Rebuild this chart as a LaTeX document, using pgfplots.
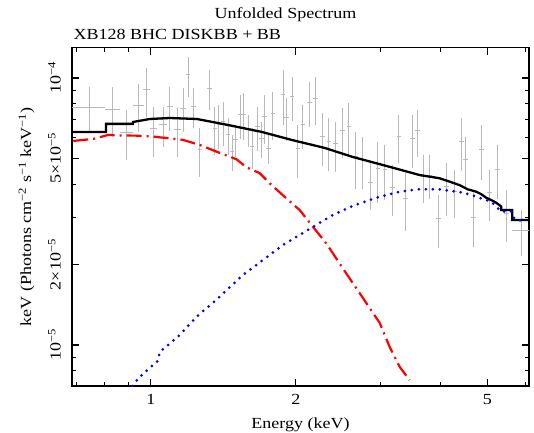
\documentclass[border=0pt]{standalone}
\usepackage{fontspec}
\setmainfont{Liberation Serif}[FakeStretch=1.17]
\usepackage{pgfplots}
\usepackage{pgfplotstable}
\pgfplotsset{compat=1.18}
\definecolor{datgray}{RGB}{185,185,185}
\definecolor{mred}{RGB}{255,0,0}
\definecolor{mblue}{RGB}{0,0,255}

\pgfplotstableread{
x dx y dy
0.745 0.058 7.74e-5 1.54e-5
0.8325 0.030 7.65e-5 1.63e-5
0.890 0.028 6.26e-5 1.33e-5
0.9425 0.0245 7.87e-5 1.60e-5
0.980 0.016 9.02e-5 1.85e-5
1.012 0.017 6.44e-5 1.37e-5
1.060 0.020 6.67e-5 1.14e-5
1.095 0.017 7.81e-5 1.47e-5
1.134 0.019 6.39e-5 1.33e-5
1.167 0.015 7.70e-5 1.45e-5
1.195 0.012 1.026e-4 1.76e-5
1.228 0.015 7.81e-5 1.34e-5
1.264 0.014 5.38e-5 1.12e-5
1.326 0.015 9.15e-5 1.56e-5
1.358 0.015 6.48e-5 1.33e-5
1.384 0.015 6.67e-5 1.25e-5
1.413 0.016 6.86e-5 1.29e-5
1.447 0.016 6.12e-5 0.96e-5
1.475 0.016 5.30e-5 0.82e-5
1.499 0.017 5.86e-5 0.81e-5
1.537 0.017 7.27e-5 1.37e-5
1.561 0.017 7.31e-5 1.45e-5
1.592 0.018 6.39e-5 0.88e-5
1.623 0.018 5.53e-5 0.97e-5
1.665 0.019 6.57e-5 1.24e-5
1.697 0.019 5.94e-5 0.92e-5
1.724 0.019 7.16e-5 1.48e-5
1.757 0.020 5.45e-5 0.67e-5
1.793 0.020 7.38e-5 1.51e-5
1.882 0.021 8.69e-5 2.02e-5
1.912 0.021 7.10e-5 1.29e-5
1.965 0.022 8.51e-5 1.60e-5
2.021 0.023 5.45e-5 1.22e-5
2.070 0.023 6.67e-5 1.25e-5
2.138 0.024 8.11e-5 1.58e-5
2.196 0.025 8.39e-5 1.72e-5
2.271 0.026 6.03e-5 1.35e-5
2.344 0.026 5.77e-5 1.30e-5
2.420 0.027 5.66e-5 1.20e-5
2.499 0.028 6.35e-5 1.35e-5
2.579 0.029 6.57e-5 1.47e-5
2.663 0.030 5.07e-5 1.22e-5
2.749 0.031 4.93e-5 1.10e-5
2.856 0.032 4.07e-5 0.86e-5
2.962 0.033 4.59e-5 1.18e-5
3.063 0.034 4.55e-5 1.06e-5
3.173 0.035 3.88e-5 0.84e-5
3.275 0.037 6.03e-5 1.24e-5
3.381 0.038 3.54e-5 0.86e-5
3.491 0.039 5.94e-5 1.33e-5
3.576 0.040 6.33e-5 1.26e-5
3.685 0.041 4.27e-5 0.88e-5
3.792 0.042 4.33e-5 0.82e-5
3.953 0.044 2.98e-5 0.67e-5
4.107 0.046 3.92e-5 0.87e-5
4.273 0.048 3.75e-5 0.77e-5
4.412 0.049 5.77e-5 1.30e-5
4.503 0.050 4.93e-5 1.10e-5
4.679 0.052 3.01e-5 0.69e-5
4.855 0.054 5.41e-5 1.26e-5
5.050 0.056 3.72e-5 0.80e-5
5.240 0.058 4.56e-5 1.05e-5
5.486 0.061 3.12e-5 0.69e-5
5.875 0.240 2.68e-5 0.52e-5
}\spec

\begin{document}
\fontsize{15.4pt}{18pt}\selectfont
\begin{tikzpicture}
\useasboundingbox (-72pt,-46pt) rectangle (462pt,386pt);
\begin{axis}[
  at={(0pt,0pt)}, anchor=south west,
  scale only axis, width=457pt, height=338.5pt,
  xmode=log, ymode=log,
  xmin=0.686, xmax=6.1, ymin=7.02e-6, ymax=1.3e-4,
  axis line style={line width=1.5pt},
  tick style={line width=1.2pt, black},
  major tick length=7pt, minor tick length=4pt,
  tick align=inside,
  xtick={1,2,5}, xticklabels={1,2,5},
  minor xtick={0.7,0.8,0.9,3,4,6},
  ytick={1e-5,2e-5,5e-5,1e-4},
  yticklabels={10\textsuperscript{−5}, 2×10\textsuperscript{−5}, 5×10\textsuperscript{−5}, 10\textsuperscript{−4}},
  minor ytick={7e-6,8e-6,9e-6,3e-5,4e-5,6e-5,7e-5,8e-5,9e-5},
  xtick pos=both, ytick pos=both, xticklabel pos=lower, yticklabel pos=left,
  xticklabel style={inner sep=0pt, anchor=north, yshift=-8pt},
  yticklabel style={inner sep=0pt, anchor=south, xshift=-11pt, rotate=90},
  xlabel={Energy (keV)},
  xlabel style={at={(axis description cs:0.5,0)}, anchor=base, yshift=-42.5pt, inner sep=0pt},
  ylabel={keV (Photons cm\textsuperscript{−2} s\textsuperscript{−1} keV\textsuperscript{−1})},
  ylabel style={at={(axis description cs:-0.0897,0.5)}, anchor=base, rotate=0, inner sep=0pt},
  /pgf/number format/assume math mode=true,
]
\addplot[draw=none, mark=none,
  error bars/.cd, x dir=both, x explicit, y dir=both, y explicit, error mark=none,
  error bar style={line width=1pt, draw=datgray, solid}]
  table[x=x, y=y, x error=dx, y error=dy] {\spec};

\addplot[black, line width=2.3pt, line join=miter] coordinates {
(0.686,6.28e-5)(0.807,6.28e-5)(0.807,6.73e-5)(0.918,6.73e-5)(0.918,6.84e-5)
(0.995,7.02e-5)(1.095,7.08e-5)(1.246,7.02e-5)(1.444,6.67e-5)(1.699,6.28e-5)
(1.961,5.86e-5)(2.296,5.47e-5)(2.625,5.06e-5)(3.088,4.68e-5)(3.614,4.33e-5)
(3.792,4.27e-5)(3.978,4.21e-5)(4.173,4.09e-5)(4.376,3.97e-5)(4.547,3.83e-5)
(4.740,3.75e-5)(4.855,3.67e-5)(4.972,3.56e-5)(5.092,3.49e-5)(5.214,3.41e-5)
(5.341,3.30e-5)(5.341,3.20e-5)(5.629,3.20e-5)(5.629,2.94e-5)(6.1,2.94e-5)
};

\addplot[mred, line width=2.2pt, dash pattern=on 15pt off 5pt on 2pt off 5pt] coordinates {
(0.69,5.81e-5)(0.759,5.91e-5)(0.816,6.12e-5)(0.862,6.09e-5)(0.934,6.08e-5)
(1.010,6.03e-5)(1.095,5.94e-5)(1.167,5.86e-5)(1.264,5.61e-5)(1.390,5.24e-5)
(1.506,4.96e-5)(1.579,4.63e-5)(1.683,4.40e-5)(1.766,4.03e-5)(1.912,3.54e-5)
(2.038,3.20e-5)(2.171,2.77e-5)(2.314,2.40e-5)(2.466,2.02e-5)(2.629,1.70e-5)
(2.757,1.50e-5)(2.987,1.21e-5)(3.132,9.85e-6)(3.286,8.29e-6)(3.445,7.39e-6)
};

\addplot[mblue, line width=3pt, line cap=round, dash pattern=on 0pt off 7pt] coordinates {
(0.916,7.02e-6)(0.941,7.50e-6)(0.987,8.11e-6)(1.035,8.73e-6)(1.044,9.44e-6)
(1.086,1.0e-5)(1.149,1.09e-5)(1.205,1.20e-5)(1.264,1.31e-5)(1.336,1.42e-5)
(1.402,1.54e-5)(1.482,1.69e-5)(1.554,1.83e-5)(1.710,2.08e-5)(1.882,2.37e-5)
(2.006,2.54e-5)(2.171,2.77e-5)(2.389,3.07e-5)(2.629,3.32e-5)(2.939,3.56e-5)
(3.286,3.75e-5)(3.585,3.83e-5)(3.978,3.83e-5)(4.173,3.78e-5)(4.412,3.73e-5)
(4.628,3.65e-5)(4.855,3.54e-5)(5.092,3.44e-5)(5.341,3.16e-5)(5.602,3.16e-5)
(5.692,2.96e-5)(5.970,2.90e-5)
};
\end{axis}
\node[anchor=base, inner sep=0pt] at (213.5pt,367.3pt) {Unfolded Spectrum};
\node[anchor=base west, inner sep=0pt] at (1.4pt,347pt) {XB128 BHC DISKBB + BB};
\end{tikzpicture}
\end{document}
